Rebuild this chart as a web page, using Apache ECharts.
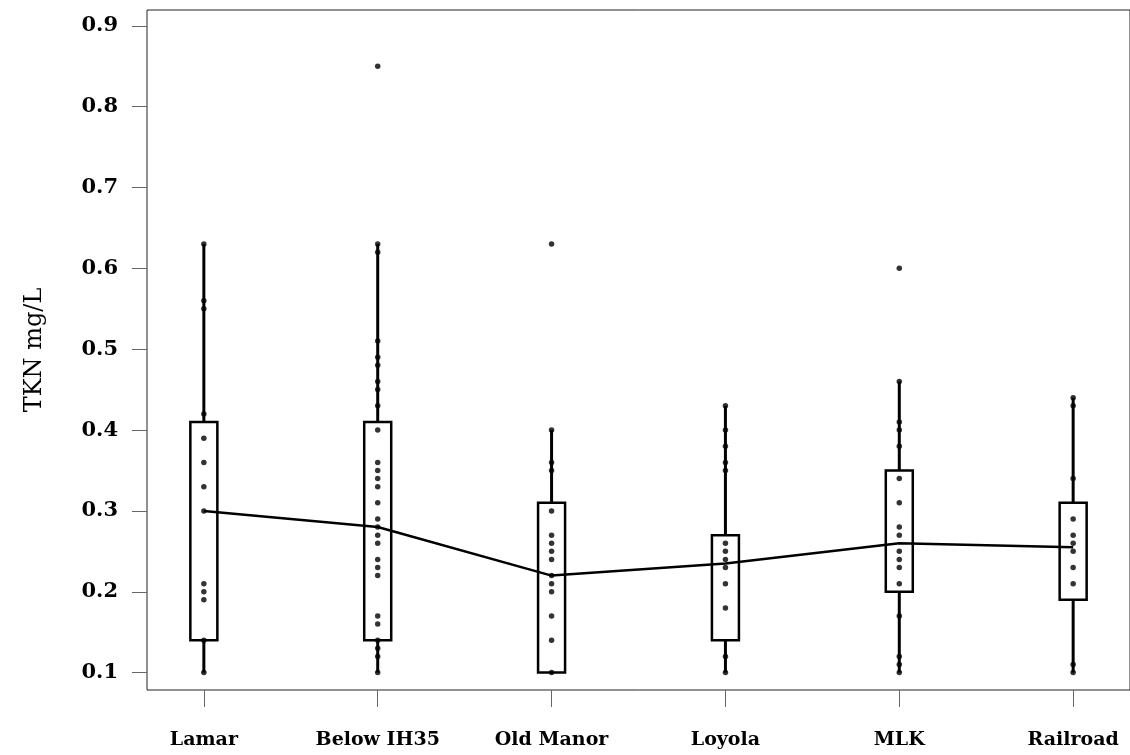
<!DOCTYPE html>
<html>
<head>
<meta charset="utf-8">
<script src="https://cdn.jsdelivr.net/npm/echarts@6/dist/echarts.min.js"></script>
<style>
  html, body { margin: 0; padding: 0; background: #fff; }
  #chart { width: 1130px; height: 755px; }
</style>
</head>
<body>
<div id="chart"></div>
<script>
// ---- data ----
const categories = ['Lamar', 'Below IH35', 'Old Manor', 'Loyola', 'MLK', 'Railroad'];
const yTicks = [0.1, 0.2, 0.3, 0.4, 0.5, 0.6, 0.7, 0.8, 0.9];

const lamar     = [0.63, 0.56, 0.55, 0.42, 0.39, 0.36, 0.33, 0.30, 0.21, 0.20, 0.19, 0.14, 0.10];
const belowIH35 = [0.85, 0.63, 0.62, 0.51, 0.49, 0.48, 0.46, 0.45, 0.43, 0.40, 0.36, 0.35, 0.34, 0.33, 0.31,
                   0.29, 0.28, 0.27, 0.26, 0.24, 0.23, 0.22, 0.17, 0.16, 0.14, 0.13, 0.12, 0.10];
const oldManor  = [0.63, 0.40, 0.36, 0.35, 0.30, 0.27, 0.26, 0.25, 0.24, 0.22, 0.21, 0.20, 0.17, 0.14, 0.10];
const loyola    = [0.43, 0.40, 0.38, 0.36, 0.35, 0.26, 0.25, 0.24, 0.23, 0.21, 0.18, 0.12, 0.10];
const mlk       = [0.60, 0.46, 0.41, 0.40, 0.38, 0.34, 0.31, 0.28, 0.27, 0.25, 0.24, 0.23, 0.21, 0.17, 0.12, 0.11, 0.10];
const railroad  = [0.44, 0.43, 0.34, 0.29, 0.27, 0.26, 0.25, 0.23, 0.21, 0.11, 0.10];

const whiskerLow  = [0.10, 0.10, 0.10, 0.10, 0.10, 0.10];
const q1          = [0.14, 0.14, 0.10, 0.14, 0.20, 0.19];
const medians     = [0.30, 0.28, 0.22, 0.235, 0.26, 0.255];
const q3          = [0.41, 0.41, 0.31, 0.27, 0.35, 0.31];
const whiskerHigh = [0.63, 0.63, 0.40, 0.43, 0.46, 0.44];

// ---- build ----
const sites = [lamar, belowIH35, oldManor, loyola, mlk, railroad];
const points = [];
sites.forEach((arr, i) => arr.forEach(v => points.push([i + 1, v])));
const boxes = categories.map((c, i) => [i + 1, whiskerLow[i], q1[i], medians[i], q3[i], whiskerHigh[i]]);
const medLine = categories.map((c, i) => [i + 1, medians[i]]);
const xPos = categories.map((c, i) => i + 1);

const chart = echarts.init(document.getElementById('chart'), null, { renderer: 'canvas' });

function renderBox(params, api) {
  const x = api.value(0);
  const pMin = api.coord([x, api.value(1)]);
  const pQ1 = api.coord([x, api.value(2)]);
  const pQ3 = api.coord([x, api.value(4)]);
  const pMax = api.coord([x, api.value(5)]);
  const w = 27;
  return {
    type: 'group',
    children: [
      { type: 'line', shape: { x1: pMax[0], y1: pMax[1], x2: pQ3[0], y2: pQ3[1] }, style: { stroke: '#000', lineWidth: 3 } },
      { type: 'line', shape: { x1: pQ1[0], y1: pQ1[1], x2: pMin[0], y2: pMin[1] }, style: { stroke: '#000', lineWidth: 3 } },
      { type: 'rect', shape: { x: pQ3[0] - w / 2, y: pQ3[1], width: w, height: pQ1[1] - pQ3[1] },
        style: { stroke: '#000', fill: 'none', lineWidth: 2.5 } }
    ]
  };
}

chart.setOption({
  animation: false,
  backgroundColor: '#fff',
  grid: {
    left: 147, top: 10, width: 986, height: 680,
    show: true, borderColor: '#222', borderWidth: 1, backgroundColor: 'transparent'
  },
  xAxis: {
    type: 'value', min: 0.673, max: 6.327,
    axisLine: { show: false },
    splitLine: { show: false },
    axisTick: { show: true, length: 17, lineStyle: { color: '#666', width: 1 }, customValues: xPos },
    axisLabel: {
      margin: 41, customValues: xPos,
      formatter: v => categories[Math.round(v) - 1] || '',
      fontFamily: 'DejaVu Serif', fontWeight: 'bold', fontSize: 19, color: '#000'
    }
  },
  yAxis: {
    type: 'value', min: 0.0785, max: 0.9195,
    name: 'TKN mg/L', nameLocation: 'middle', nameGap: 100, nameRotate: 90,
    nameTextStyle: { fontFamily: 'DejaVu Serif', fontSize: 24, color: '#000' },
    axisLine: { show: false },
    splitLine: { show: false },
    axisTick: { show: true, length: 15, lineStyle: { color: '#666', width: 1 }, customValues: yTicks },
    axisLabel: {
      margin: 29, customValues: yTicks, formatter: v => v.toFixed(1),
      fontFamily: 'DejaVu Serif', fontWeight: 'bold', fontSize: 21, color: '#000'
    }
  },
  series: [
    {
      type: 'custom', renderItem: renderBox, data: boxes, clip: false,
      encode: { x: 0, y: [1, 2, 3, 4, 5] }, z: 2, silent: true
    },
    {
      type: 'line', data: medLine, symbol: 'none', z: 3, silent: true,
      lineStyle: { color: '#000', width: 2.5 }
    },
    {
      type: 'scatter', data: points, symbol: 'circle', symbolSize: 5.5, z: 4, silent: true,
      itemStyle: { color: '#000' }
    }
  ]
});
</script>
</body>
</html>
